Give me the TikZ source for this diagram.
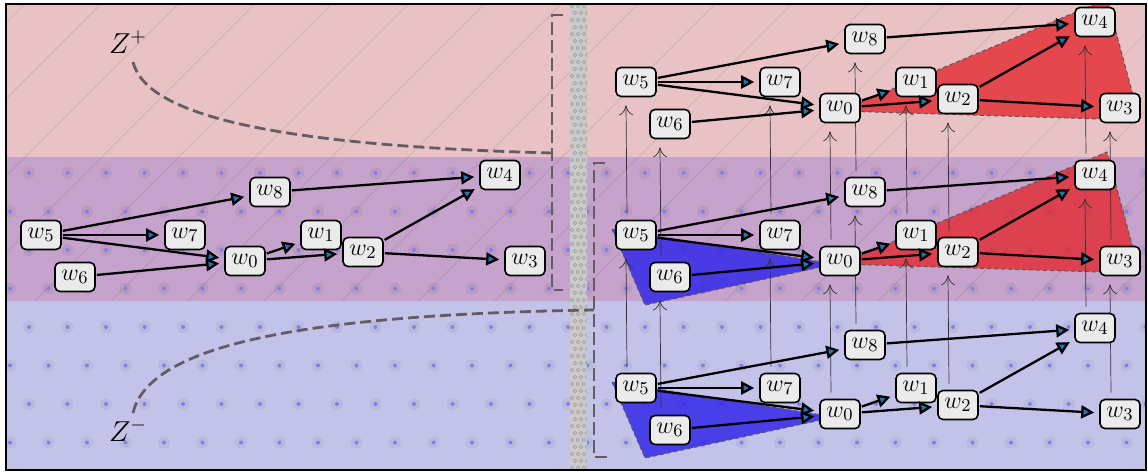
\documentclass[tikz,border=0pt]{standalone}
\usetikzlibrary{arrows.meta}
\definecolor{pinkband}{RGB}{232,194,196}
\definecolor{purpleband}{RGB}{198,163,204}
\definecolor{blueband}{RGB}{195,195,233}
\definecolor{nodefill}{RGB}{235,235,235}
\definecolor{arrowblue}{RGB}{31,120,180}
\definecolor{polyred}{RGB}{228,38,45}
\definecolor{polyblue}{RGB}{52,40,232}
\definecolor{dashgrey}{RGB}{100,92,100}
\definecolor{stripgrey}{RGB}{202,202,202}
\definecolor{dotblue}{RGB}{128,128,236}
\pgfdeclarelayer{under}
\pgfsetlayers{under,main}
\tikzset{
  wnode/.style={draw=black, line width=0.8pt, fill=nodefill, rounded corners=2.5pt,
    minimum width=20pt, minimum height=14.5pt, inner sep=1pt,
    font=\fontsize{13}{15}\selectfont},
  edge/.style={draw=black, line width=1.15pt,
    -{Triangle[length=6.5pt,width=6.5pt,fill=arrowblue]},
    shorten >=2.5pt, shorten <=0.5pt},
  liftarrow/.style={draw=black!80, line width=0.35pt, -{To[length=5pt,width=7pt]}},
  zcurve/.style={draw=dashgrey, line width=1.4pt, dash pattern=on 5.5pt off 2.5pt},
  bracketline/.style={draw=dashgrey, line width=1.4pt, dash pattern=on 6.5pt off 2.5pt},
  polyborder/.style={draw=black!65, line width=0.5pt, dash pattern=on 2pt off 1.5pt},
  zlab/.style={font=\fontsize{14}{16}\selectfont, inner sep=0pt},
}
\newcommand\wcopy[3]{%
  \begin{scope}[shift={(#2,#3)}]
    \node[wnode] (#1w5) at (41,235) {$w_5$};
    \node[wnode] (#1w6) at (75,277) {$w_6$};
    \node[wnode] (#1w7) at (185,235) {$w_7$};
    \node[wnode] (#1w8) at (270,192) {$w_8$};
    \node[wnode] (#1w0) at (245,261) {$w_0$};
    \node[wnode] (#1w1) at (321,235) {$w_1$};
    \node[wnode] (#1w2) at (363,252) {$w_2$};
    \node[wnode] (#1w4) at (500,175) {$w_4$};
    \node[wnode] (#1w3) at (525,261) {$w_3$};
  \end{scope}
  \draw[edge] (#1w5) -- (#1w8);
  \draw[edge] (#1w5) -- (#1w7);
  \draw[edge] (#1w5) -- (#1w0);
  \draw[edge] (#1w6) -- (#1w0);
  \draw[edge] (#1w0) -- (#1w1);
  \draw[edge] (#1w0) -- (#1w2);
  \draw[edge] (#1w2) -- (#1w4);
  \draw[edge] (#1w2) -- (#1w3);
  \draw[edge] (#1w8) -- (#1w4);
}
\newcommand\redpoly[1]{%
  \fill[polyred, fill opacity=0.78]
    ([shift={(0,3)}]#1w0.center) -- ([shift={(12,-23)}]#1w4.center) --
    ([shift={(13,-13)}]#1w3.center) -- ([shift={(-20,11)}]#1w3.center) -- cycle;
  \draw[polyborder]
    ([shift={(0,3)}]#1w0.center) -- ([shift={(12,-23)}]#1w4.center) --
    ([shift={(13,-13)}]#1w3.center) -- ([shift={(-20,11)}]#1w3.center) -- cycle;
}
\newcommand\bluepoly[1]{%
  \fill[polyblue, fill opacity=0.85]
    ([shift={(-24,-6)}]#1w5.center) -- ([shift={(-25,28)}]#1w6.center) --
    ([shift={(-5,3)}]#1w0.center) -- cycle;
  \draw[polyborder]
    ([shift={(-24,-6)}]#1w5.center) -- ([shift={(-25,28)}]#1w6.center) --
    ([shift={(-5,3)}]#1w0.center) -- cycle;
}
\begin{document}
\begin{tikzpicture}[x=0.5pt,y=-0.5pt]
\useasboundingbox (0,0) rectangle (1148,472);
\begin{pgfonlayer}{under}
  \fill[white] (0,0) rectangle (1148,472);
  \fill[pinkband] (6,4) rectangle (1146,157);
  \fill[purpleband] (6,157) rectangle (1146,301);
  \fill[blueband] (6,301) rectangle (1146,470);
  % diagonal hatch over the red region
  \begin{scope}
    \clip (6,4) rectangle (1146,301);
    \foreach \i in {-5,...,15}
      \draw[black, draw opacity=0.07, line width=0.6pt] (34.4+\i*76.7,301) -- ++(297,-297);
  \end{scope}
  % dot grid over the blue region
  \begin{scope}
    \clip (6,157) rectangle (1146,470);
    \foreach \k in {0,...,7} {
      \pgfmathsetmacro\yy{173+38.5*\k}
      \pgfmathsetmacro\xo{29-19*mod(\k,2)}
      \foreach \j in {0,...,30} {
        \fill[black, fill opacity=0.05] (\xo+38.5*\j,\yy) circle (3pt);
        \fill[dotblue] (\xo+38.5*\j,\yy) circle (1pt);
      }
    }
  \end{scope}
  % separator strip
  \fill[stripgrey] (570,4) rectangle (587,470);
  \begin{scope}
    \clip (570,4) rectangle (587,470);
    \foreach \r in {0,...,67} {
      \pgfmathsetmacro\ry{6+7*\r}
      \pgfmathsetmacro\rx{572+3*mod(\r,2)}
      \foreach \c in {0,1,2}
        \draw[black!40, line width=0.3pt] (\rx+6*\c,\ry) circle (0.9pt);
    }
  \end{scope}
  % brackets
  \draw[bracketline] (563,15) -- (552,15) -- (552,290) -- (563,290);
  \draw[bracketline] (605,163) -- (594,163) -- (594,457) -- (607,457);
\end{pgfonlayer}

% Z labels and curves
\node[zlab] (zp) at (128,42) {$Z^{+}$};
\node[zlab] (zm) at (128,430) {$Z^{-}$};
\coordinate (zpstart) at (133,62);
\coordinate (zpend) at (552,153);
\coordinate (zmstart) at (133,413);
\coordinate (zmend) at (594,310);
\draw[zcurve] (zpstart) .. controls (145,110) and (250,145) .. (zpend);
\draw[zcurve] (zmstart) .. controls (148,350) and (280,315) .. (zmend);

% graph copies
\wcopy{L}{0}{0}
\wcopy{T}{595}{-153}
\wcopy{M}{595}{0}
\wcopy{B}{595}{153}

\begin{pgfonlayer}{under}
  \begin{scope}
    \clip (6,4) rectangle (1146,470);
    \redpoly{T}
    \redpoly{M}
    \bluepoly{M}
    \bluepoly{B}
  \end{scope}
  \foreach \n in {0,...,8} {
    \draw[liftarrow] ([shift={(-9,-6)}]Bw\n.north) -- ([shift={(-10,8)}]Mw\n.south);
    \draw[liftarrow] ([shift={(-9,-6)}]Mw\n.north) -- ([shift={(-10,8)}]Tw\n.south);
  }
\end{pgfonlayer}

% frame
\draw[black, line width=1pt] (6,4) rectangle (1146,470);
\end{tikzpicture}
\end{document}
